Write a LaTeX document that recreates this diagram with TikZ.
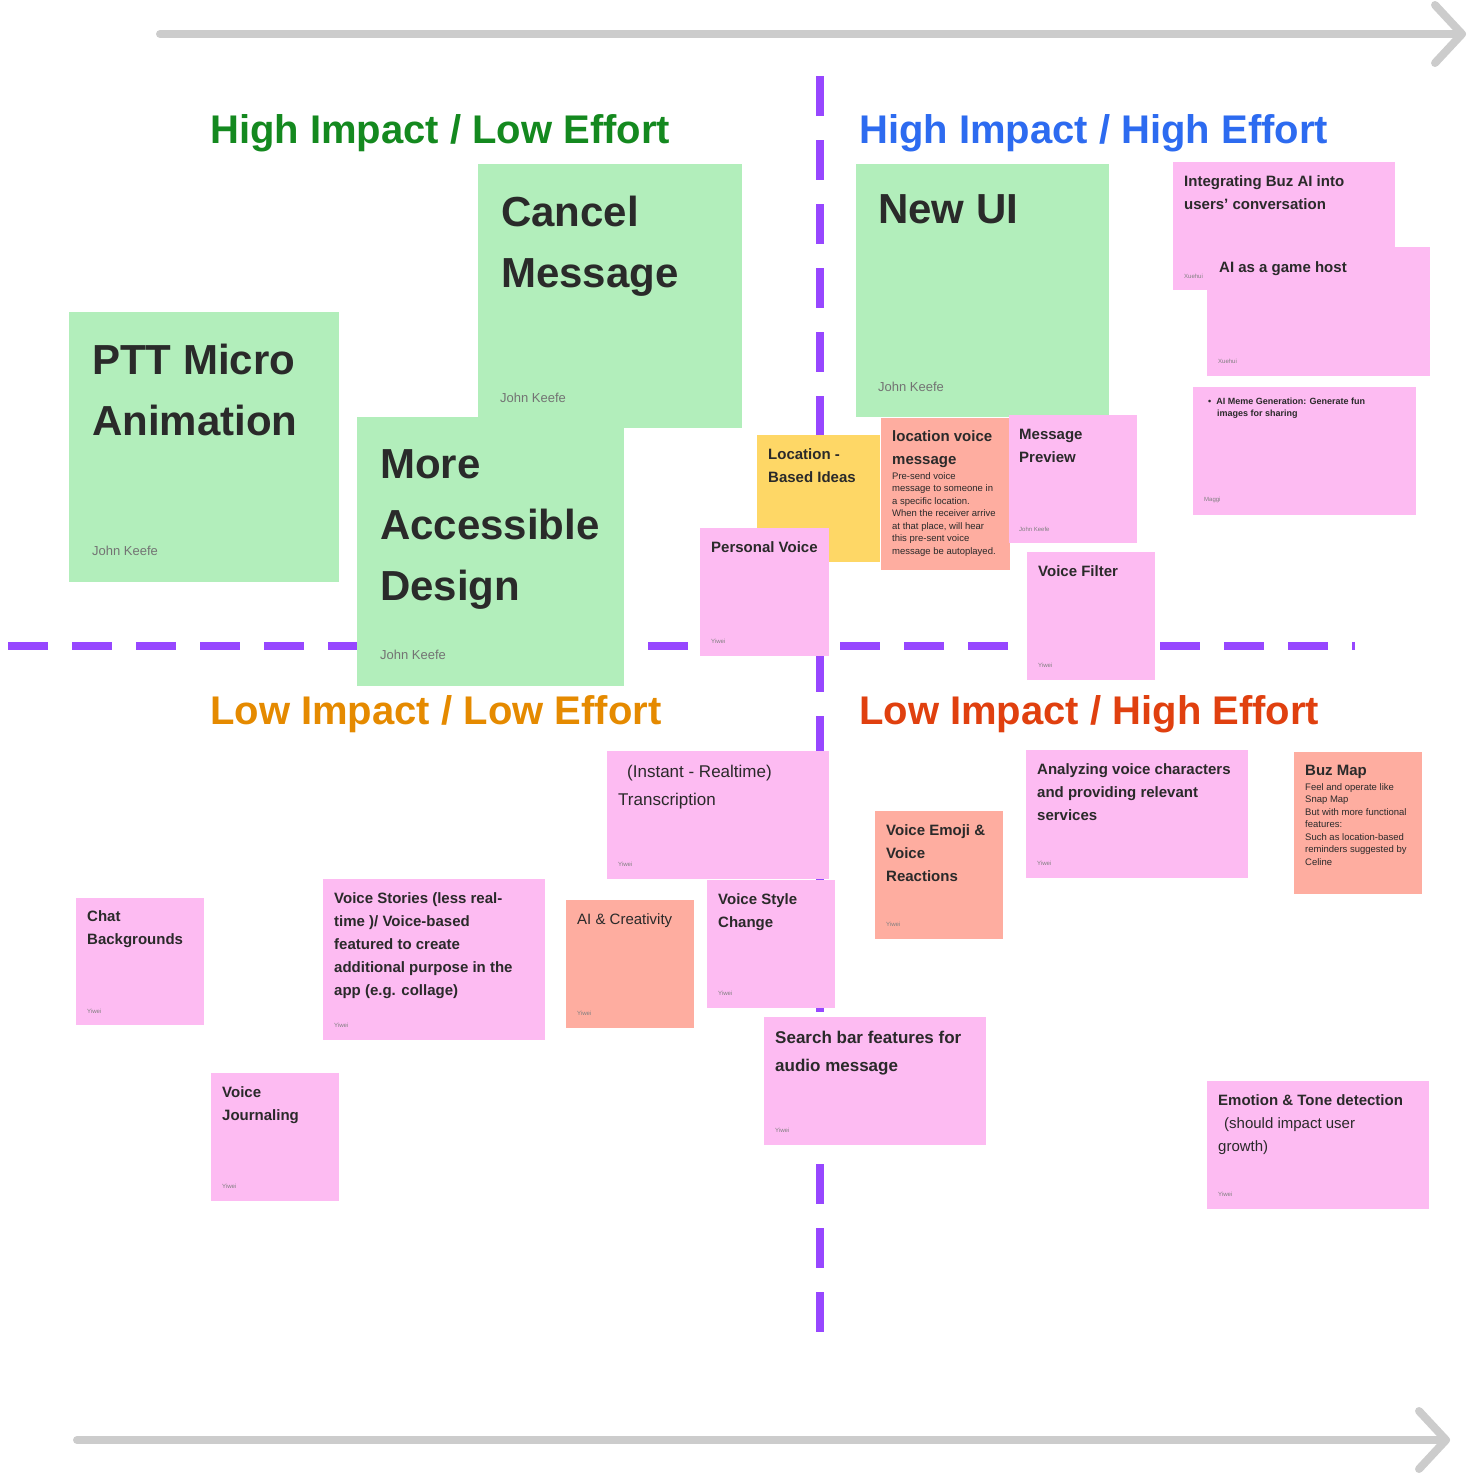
\documentclass[tikz,border=0pt]{standalone}
\usepackage{fontspec}
\setmainfont{Liberation Sans}
\definecolor{gr}{HTML}{B2EEBB}
\definecolor{pk}{HTML}{FDBBF2}
\definecolor{sa}{HTML}{FEADA0}
\definecolor{ye}{HTML}{FED766}
\definecolor{pu}{HTML}{9747FF}
\definecolor{ax}{HTML}{CCCCCC}
\definecolor{txt}{HTML}{2A2A2A}
\definecolor{hg}{HTML}{14891F}
\definecolor{hb}{HTML}{2D6BF0}
\definecolor{ho}{HTML}{E58A00}
\definecolor{hr}{HTML}{E0400F}
\tikzset{
  card/.style={inner sep=0,outer sep=0},
  big/.style={anchor=north west,inner sep=0,align=left,text=txt,font=\fontsize{42}{61}\selectfont\bfseries},
  mid/.style={anchor=north west,inner sep=0,align=left,text=txt,font=\fontsize{15}{23}\selectfont\bfseries},
  midr/.style={anchor=north west,inner sep=0,align=left,text=txt,font=\fontsize{17}{28}\selectfont},
  tiny/.style={anchor=north west,inner sep=0,align=left,text=txt,font=\fontsize{9.5}{12.5}\selectfont},
  auth/.style={anchor=west,inner sep=0,text=black!55,font=\fontsize{13}{15}\selectfont},
  sauth/.style={anchor=west,inner sep=0,text=black!50,font=\fontsize{6}{7}\selectfont},
  head/.style={anchor=base west,inner sep=0,font=\fontsize{40}{44}\selectfont\bfseries},
  axis/.style={draw=ax,line width=8pt,line cap=round,line join=round},
  quad/.style={draw=pu,line width=8pt,dash pattern=on 40pt off 24pt},
}
\newcommand{\card}[6]{\fill[#6] (#2,#3) rectangle (#4,#5); \coordinate (#1) at (#2,#3);}
\begin{document}
\begin{tikzpicture}[x=1pt,y=-1pt]
\useasboundingbox (0,0) rectangle (1469,1475);
% axes
\coordinate (a1) at (160,34); \coordinate (a2) at (1462,34);
\coordinate (b1) at (77,1440); \coordinate (b2) at (1446,1440);
\draw[axis] (a1) -- (a2); \draw[axis] (1435,5) -- (a2) -- (1435,63);
\draw[axis] (b1) -- (b2); \draw[axis] (1419,1411) -- (b2) -- (1419,1469);
% quadrant lines
\coordinate (v1) at (820,76); \coordinate (v2) at (820,1345);
\coordinate (h1) at (8,646); \coordinate (h2) at (1355,646);
\draw[quad] (v1) -- (v2);
\draw[quad] (h1) -- (h2);
% headings
\node[head,text=hg] (hl) at (210,143) {High Impact / Low Effort};
\node[head,text=hb] (hh) at (859,143) {High Impact / High Effort};
\node[head,text=ho] (ll) at (210,724) {Low Impact / Low Effort};
\node[head,text=hr] (lh) at (859,724) {Low Impact / High Effort};
% big green cards
\card{c1}{478}{164}{742}{428}{gr}
\node[big] (t1) at (501,196) {Cancel\\Message};
\node[auth] (u1) at (500,398) {John Keefe};
\card{c2}{69}{312}{339}{582}{gr}
\node[big] (t2) at (92,344) {PTT Micro\\Animation};
\node[auth] (u2) at (92,551) {John Keefe};
\card{c3}{357}{417}{624}{686}{gr}
\node[big] (t3) at (380,449) {More\\Accessible\\Design};
\node[auth] (u3) at (380,655) {John Keefe};
\card{c4}{856}{164}{1109}{417}{gr}
\node[big] (t4) at (878,194) {New UI};
\node[auth] (u4) at (878,387) {John Keefe};
% high effort pinks
\card{c5}{1173}{162}{1395}{290}{pk}
\node[mid] (t5) at (1184,175) {Integrating Buz AI into\\users’ conversation};
\node[sauth] (u5) at (1184,276) {Xuehui};
\card{c6}{1207}{247}{1430}{376}{pk}
\node[mid] (t6) at (1219,261) {AI as a game host};
\node[sauth] (u6) at (1218,361) {Xuehui};
\card{c7}{1193}{387}{1416}{515}{pk}
\node[tiny,font=\fontsize{9}{12}\selectfont\bfseries] (t7) at (1208,398) {•\ \ AI Meme Generation: Generate fun\\\hspace*{9pt}images for sharing};
\node[sauth] (u7) at (1204,500) {Maggi};
\card{c8}{757}{435}{880}{562}{ye}
\node[mid] (t8) at (768,448) {Location -\\Based Ideas};
\card{c9}{881}{418}{1010}{570}{sa}
\node[mid] (t9) at (892,430) {location voice\\message};
\node[tiny] (b9) at (892,472) {Pre-send voice\\message to someone in\\a specific location.\\When the receiver arrive\\at that place, will hear\\this pre-sent voice\\message be autoplayed.};
\card{c10}{1009}{415}{1137}{543}{pk}
\node[mid] (t10) at (1019,429) {Message\\Preview};
\node[sauth] (u10) at (1019,529) {John Keefe};
\card{c11}{700}{528}{829}{656}{pk}
\node[mid] (t11) at (711,541) {Personal Voice};
\node[sauth] (u11) at (711,641) {Yiwei};
\card{c12}{1027}{552}{1155}{680}{pk}
\node[mid] (t12) at (1038,565) {Voice Filter};
\node[sauth] (u12) at (1038,665) {Yiwei};
% low impact
\card{c13}{607}{751}{829}{879}{pk}
\node[midr] (t13) at (618,765) {\hspace*{9pt}(Instant - Realtime)\\Transcription};
\node[sauth] (u13) at (618,864) {Yiwei};
\card{c14}{76}{898}{204}{1025}{pk}
\node[mid] (t14) at (87,910) {Chat\\Backgrounds};
\node[sauth] (u14) at (87,1011) {Yiwei};
\card{c15}{323}{879}{545}{1040}{pk}
\node[mid] (t15) at (334,892) {Voice Stories (less real-\\time )/ Voice-based\\featured to create\\additional purpose in the\\app (e.g. collage)};
\node[sauth] (u15) at (334,1025) {Yiwei};
\card{c16}{566}{900}{694}{1028}{sa}
\node[mid,font=\fontsize{15}{23}\selectfont] (t16) at (577,913) {AI \& Creativity};
\node[sauth] (u16) at (577,1013) {Yiwei};
\card{c17}{707}{880}{835}{1008}{pk}
\node[mid] (t17) at (718,893) {Voice Style\\Change};
\node[sauth] (u17) at (718,993) {Yiwei};
\card{c18}{875}{811}{1003}{939}{sa}
\node[mid] (t18) at (886,824) {Voice Emoji \&\\Voice\\Reactions};
\node[sauth] (u18) at (886,924) {Yiwei};
\card{c19}{1026}{750}{1248}{878}{pk}
\node[mid] (t19) at (1037,763) {Analyzing voice characters\\and providing relevant\\services};
\node[sauth] (u19) at (1037,863) {Yiwei};
\card{c20}{1294}{752}{1422}{894}{sa}
\node[mid] (t20) at (1305,765) {Buz Map};
\node[tiny] (b20) at (1305,783) {Feel and operate like\\Snap Map\\But with more functional\\features:\\Such as location-based\\reminders suggested by\\Celine};
\card{c21}{764}{1017}{986}{1145}{pk}
\node[mid,font=\fontsize{17}{28}\selectfont\bfseries] (t21) at (775,1031) {Search bar features for\\audio message};
\node[sauth] (u21) at (775,1130) {Yiwei};
\card{c22}{211}{1073}{339}{1201}{pk}
\node[mid] (t22) at (222,1086) {Voice\\Journaling};
\node[sauth] (u22) at (222,1186) {Yiwei};
\card{c23}{1207}{1081}{1429}{1209}{pk}
\node[mid] (t23) at (1218,1094) {Emotion \& Tone detection\\\mdseries\hspace*{6pt}(should impact user\\\mdseries growth)};
\node[sauth] (u23) at (1218,1194) {Yiwei};
\end{tikzpicture}
\end{document}
